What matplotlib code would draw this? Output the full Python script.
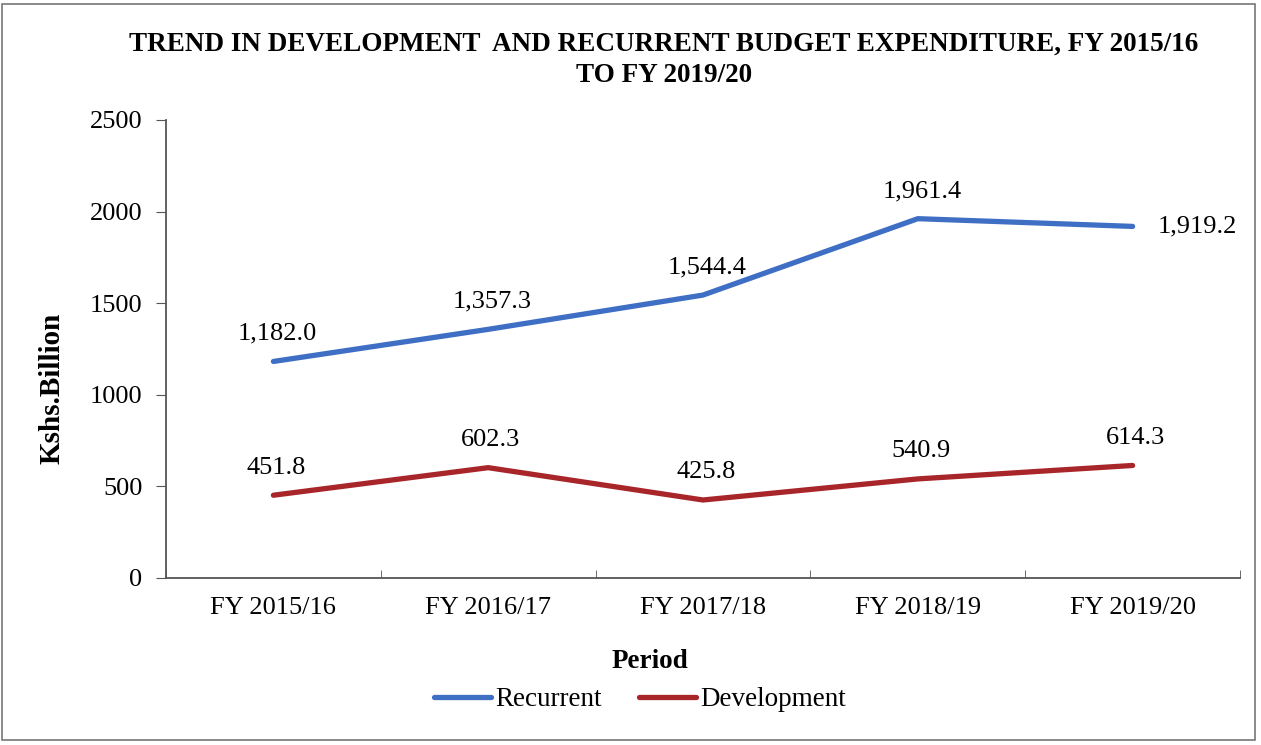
import matplotlib.pyplot as plt
import numpy as np
from matplotlib.patches import Rectangle

periods = ['FY 2015/16', 'FY 2016/17', 'FY 2017/18', 'FY 2018/19', 'FY 2019/20']
recurrent = [1182.0, 1357.3, 1544.4, 1961.4, 1919.2]
development = [451.8, 602.3, 425.8, 540.9, 614.3]

plt.rcParams['font.family'] = ['Liberation Serif', 'DejaVu Serif']

fig = plt.figure(figsize=(12.61, 7.45), dpi=100)
ax = fig.add_axes([166/1261, 1 - 578/745, (1240-166)/1261, (578-120)/745])

x = np.arange(len(periods))
ax.plot(x, recurrent, color='#3F6FC4', lw=3.8, label='Recurrent', solid_capstyle='round')
ax.plot(x, development, color='#A8262A', lw=3.8, label='Development', solid_capstyle='round')

# data labels
for i, v in enumerate(recurrent):
    if i == len(recurrent) - 1:
        ax.annotate(f'{v:,.1f}', (i, v), xytext=(18, 0), textcoords='offset points',
                    ha='left', va='center', fontsize=19)
    else:
        ax.annotate(f'{v:,.1f}', (i, v), xytext=(3, 12), textcoords='offset points',
                    ha='center', va='bottom', fontsize=19)
for i, v in enumerate(development):
    ax.annotate(f'{v:,.1f}', (i, v), xytext=(2, 12), textcoords='offset points',
                ha='center', va='bottom', fontsize=19)

ax.set_xlim(-0.5, len(periods) - 0.5)
ax.set_ylim(0, 2500)
ax.set_yticks([0, 500, 1000, 1500, 2000, 2500])
ax.set_xticks(x)
ax.set_xticklabels(periods)
ax.set_xticks(np.arange(-0.5, len(periods)), minor=True)
ax.tick_params(axis='x', which='major', length=0, labelsize=19, pad=14)
ax.tick_params(axis='x', which='minor', length=6, direction='in', color='#555555')
ax.tick_params(axis='y', length=7, direction='out', labelsize=19, pad=10, color='#555555')

for s in ['top', 'right']:
    ax.spines[s].set_visible(False)
for s in ['left', 'bottom']:
    ax.spines[s].set_color('#555555')
    ax.spines[s].set_linewidth(1.3)

fig.text(664/1261, 1 - 60/745, 'TREND IN DEVELOPMENT  AND RECURRENT BUDGET EXPENDITURE, FY 2015/16\nTO FY 2019/20',
         ha='center', va='center', fontsize=19.5, fontweight='bold', linespacing=1.3)
fig.text(52/1261, 1 - 388/745, 'Kshs.Billion', rotation=90, ha='center', va='center',
         fontsize=21, fontweight='bold')
fig.text(650/1261, 1 - 661/745, 'Period', ha='center', va='center', fontsize=19.5, fontweight='bold')

fig.legend(loc='center', bbox_to_anchor=(640/1261, 1 - 700/745), ncol=2, frameon=False,
           fontsize=19.5, handlelength=2.1, handletextpad=0.15, columnspacing=1.4)

fig.patches.append(Rectangle((2/1261, 5/745), 1253/1261, 736/745, transform=fig.transFigure,
                             fill=False, edgecolor='#777777', lw=1.2))

fig.savefig('out.png', dpi=100)
